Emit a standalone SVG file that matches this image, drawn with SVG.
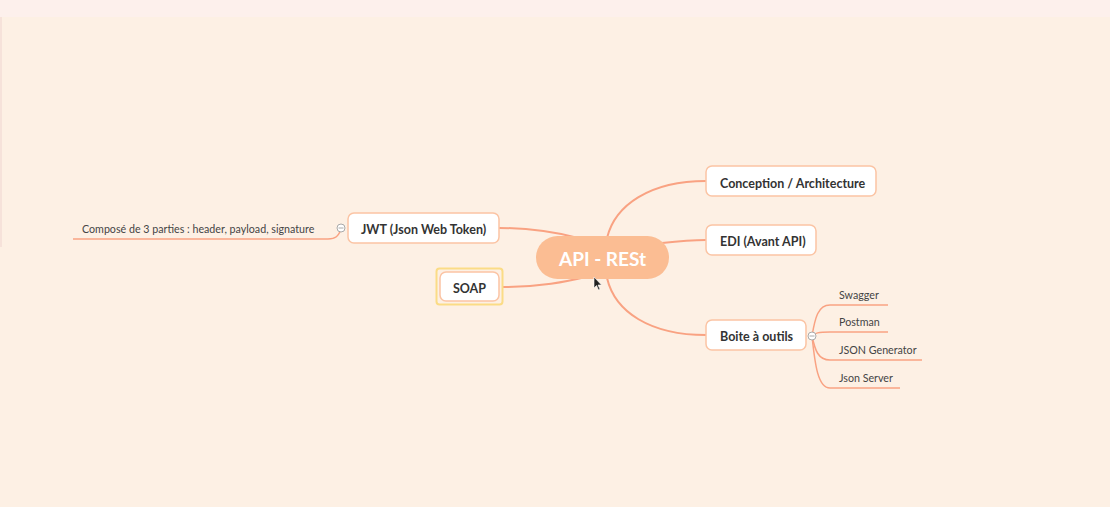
<svg xmlns="http://www.w3.org/2000/svg" width="1110" height="507" viewBox="0 0 1110 507">
<defs>
<style>
.node rect { fill:#ffffff; stroke:#fbc4a4; stroke-width:1.5; }
.lbl { font-family:Lato, "Liberation Sans", sans-serif; font-weight:700; font-size:12.5px; fill:#333333; }
.sub { font-family:Lato, "Liberation Sans", sans-serif; font-size:10.7px; fill:#444444; }
.conn path { fill:none; stroke:#f9a282; stroke-width:2; }
.thin path { fill:none; stroke:#f9a282; stroke-width:1.5; }
.tog { fill:#ffffff; stroke:#aaaaaa; stroke-width:1; }
</style>
</defs>
<rect x="0" y="0" width="1110" height="507" fill="#fdf0e4"/>
<rect x="0" y="0" width="1110" height="17" fill="#fdf0ec"/>
<rect x="0" y="17" width="2" height="230" fill="#f6e2da"/>

<g id="connectors" class="conn">
<path d="M 607 238 C 615 205, 650 181, 706 181"/>
<path d="M 662 243 C 680 241, 690 240, 706 240"/>
<path d="M 607 278 C 615 312, 650 335, 706 335"/>
<path d="M 499 228 C 530 228, 555 232, 578 238"/>
<path d="M 503 287 C 540 287, 565 282, 590 276"/>
</g>

<g id="sub-connectors" class="thin">
<path d="M 812 336 C 815 318, 818 305, 830 305 L 888 305"/>
<path d="M 812 336 C 815 333, 818 332, 830 332 L 888 332"/>
<path d="M 812 336 C 815 350, 818 360, 830 360 L 922 360"/>
<path d="M 812 336 C 815 365, 818 388, 830 388 L 900 388"/>
<path d="M 341 230 C 338 236, 336 239, 328 239 L 73 239"/>
</g>

<g id="center">
<rect x="536" y="236" width="133" height="43" rx="21.5" fill="#fbbd93"/>
<text x="602.5" y="265.5" text-anchor="middle" font-family="Lato, 'Liberation Sans', sans-serif" font-weight="700" font-size="19" fill="#ffffff">API - RESt</text>
</g>

<g id="conception" class="node">
<rect x="706" y="166" width="170" height="30" rx="6"/>
<text class="lbl" x="720" y="188">Conception / Architecture</text>
</g>

<g id="edi" class="node">
<rect x="706" y="225" width="110" height="30" rx="6"/>
<text class="lbl" x="720" y="246">EDI (Avant API)</text>
</g>

<g id="boite" class="node">
<rect x="706" y="320" width="100" height="30" rx="6"/>
<text class="lbl" x="720" y="341">Boite à outils</text>
<circle class="tog" cx="812" cy="336" r="4"/>
<line x1="809.5" y1="336" x2="814.5" y2="336" stroke="#aaaaaa" stroke-width="1"/>
</g>

<g id="swagger"><text class="sub" x="839" y="299">Swagger</text></g>
<g id="postman"><text class="sub" x="839" y="326">Postman</text></g>
<g id="jsongen"><text class="sub" x="839" y="354">JSON Generator</text></g>
<g id="jsonserver"><text class="sub" x="839" y="382">Json Server</text></g>

<g id="jwt" class="node">
<rect x="348" y="213" width="151" height="30" rx="6"/>
<text class="lbl" x="361" y="234">JWT (Json Web Token)</text>
<circle class="tog" cx="341" cy="228" r="4"/>
<line x1="338.5" y1="228" x2="343.5" y2="228" stroke="#aaaaaa" stroke-width="1"/>
</g>

<g id="jwt-detail"><text class="sub" x="82" y="233">Composé de 3 parties : header, payload, signature</text></g>

<g id="soap" class="node">
<rect x="436.5" y="268.5" width="66" height="36" rx="3" style="fill:none;stroke:#fbdc86;stroke-width:2"/>
<rect x="440" y="272" width="59" height="29" rx="6"/>
<text class="lbl" x="469.5" y="293" text-anchor="middle">SOAP</text>
</g>

<path d="M 594 277 L 594 288 L 596.5 285.5 L 598.5 290 L 600 289.3 L 598 285 L 601.5 285 Z" fill="#222222" stroke="#ffffff" stroke-width="0.6"/>
</svg>
